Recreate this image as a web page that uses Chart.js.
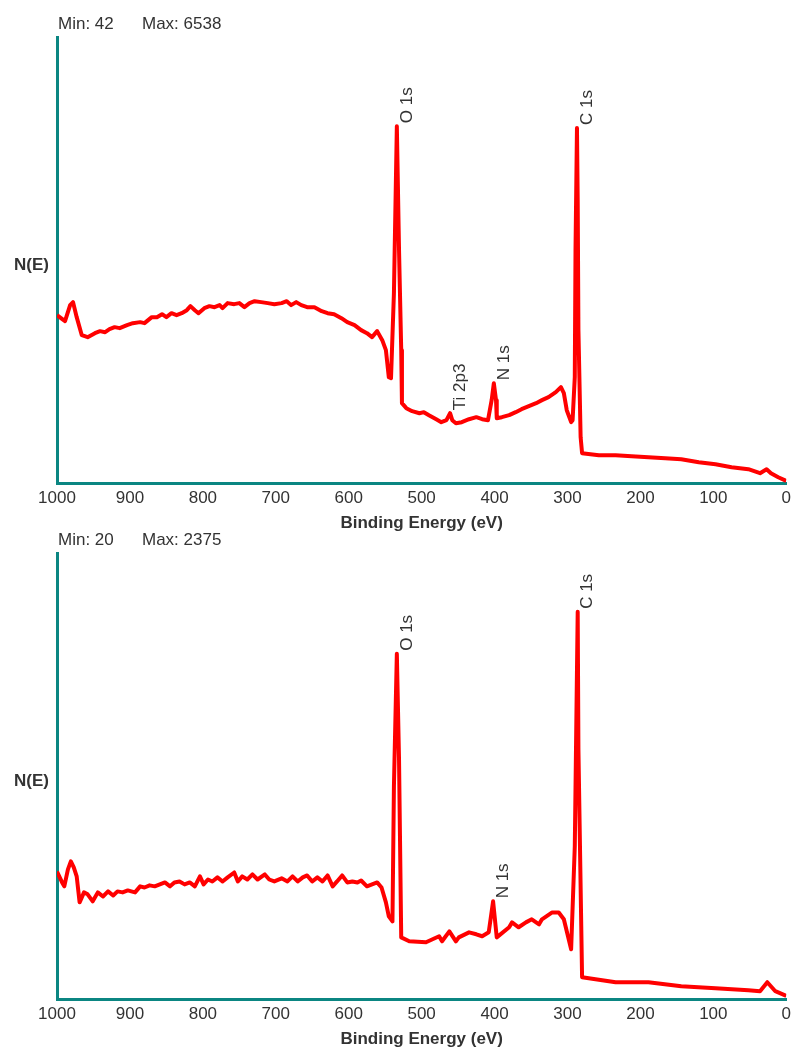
<!DOCTYPE html>
<html lang="en">
<head>
    <meta charset="utf-8" />
    <title>XPS survey</title>
    <script src="https://cdn.jsdelivr.net/npm/chart.js"></script>
    <style>
        body { margin: 0; background: #fff; overflow: hidden; }
        .painel { position: absolute; left: 0; width: 796px; height: 540px; }
        #painel_topo { top: 0; }
        #painel_baixo { top: 516px; }
    </style>
</head>
<body>
    <div class="painel" id="painel_topo"><canvas id="grafico_topo" width="796" height="540"></canvas></div>
    <div class="painel" id="painel_baixo"><canvas id="grafico_baixo" width="796" height="540"></canvas></div>

<script>
    // Espectro de cima (binding energy em eV, contagens)
    const topEv = [1000, 989, 982, 978, 973, 966, 958, 948, 941, 934, 928, 921, 914, 904, 896, 886, 880, 870, 863, 856,
        850, 843, 836, 829, 822, 817, 811, 806, 798, 791, 784, 777, 773, 766, 757, 750, 743, 736, 729, 720,
        711, 702, 692, 685, 679, 672, 665, 657, 647, 637, 629, 620, 610, 602, 592, 583, 575, 568, 561, 554,
        549, 545, 542, 538, 534, 531, 528, 527, 521, 513, 503, 497, 490, 480, 473, 466, 461, 458, 453, 445,
        435, 425, 417, 409, 404, 401, 398, 397, 390, 380, 371, 363, 353, 343, 335, 326, 316, 309, 305, 301,
        295, 293, 290, 289, 287, 286, 285, 282, 280, 257, 234, 212, 189, 166, 144, 120, 97, 75, 52, 36,
        27, 21, 11, 0];
    const topCounts = [3078, 2968, 3261, 3316, 3041, 2711, 2675, 2748, 2785, 2766, 2821, 2858, 2840, 2895, 2931, 2950, 2931, 3041, 3041, 3096,
        3041, 3114, 3078, 3114, 3169, 3243, 3169, 3114, 3206, 3243, 3224, 3261, 3206, 3298, 3279, 3298, 3224, 3298, 3334, 3316,
        3298, 3279, 3298, 3334, 3261, 3316, 3261, 3224, 3224, 3151, 3114, 3096, 3023, 2950, 2895, 2803, 2748, 2675, 2785, 2620,
        2437, 1942, 1924, 3481, 6538, 4269, 2437, 1466, 1374, 1319, 1282, 1301, 1246, 1172, 1118, 1154, 1282, 1154, 1099, 1118,
        1172, 1209, 1172, 1154, 1521, 1832, 1521, 1191, 1209, 1246, 1301, 1356, 1411, 1466, 1521, 1576, 1667, 1759, 1649, 1337,
        1118, 1154, 1942, 4269, 6504, 5185, 2803, 843, 550, 513, 513, 495, 476, 458, 440, 385, 348, 293, 256, 183,
        256, 183, 110, 42];
    const topMinMax = [42, 6538];
    const topYMax = 8172;
    const topPeakNames = ["O 1s", "Ti 2p3", "N 1s", "C 1s"];
    const topPeakEv = [534, 461, 401, 287];
    const topPeakCounts = [6538, 1282, 1832, 6504];

    // Espectro de baixo
    const bottomEv = [1000, 993, 990, 985, 981, 977, 973, 969, 963, 958, 951, 944, 937, 930, 923, 917, 910, 903, 893, 886,
        880, 873, 866, 859, 852, 845, 839, 832, 825, 818, 811, 804, 799, 793, 787, 780, 773, 766, 757, 752,
        746, 739, 732, 725, 715, 709, 702, 692, 684, 677, 670, 663, 657, 650, 643, 636, 629, 622, 616, 609,
        602, 595, 588, 583, 575, 568, 561, 555, 549, 545, 540, 538, 534, 531, 528, 517, 494, 476, 472, 462,
        453, 449, 435, 425, 417, 408, 402, 397, 380, 376, 367, 357, 349, 339, 335, 321, 312, 305, 295, 290,
        286, 285, 280, 234, 189, 144, 97, 52, 36, 26, 15, 0];
    const bottomCounts = [783, 716, 692, 796, 845, 808, 753, 594, 655, 643, 600, 655, 630, 661, 636, 661, 655, 667, 655, 692,
        685, 698, 692, 704, 716, 692, 716, 722, 704, 716, 692, 753, 704, 734, 722, 747, 722, 747, 777, 722,
        753, 734, 765, 734, 765, 734, 722, 741, 722, 753, 722, 747, 759, 722, 747, 722, 759, 692, 722, 759,
        716, 722, 716, 728, 692, 704, 716, 685, 594, 508, 477, 1304, 2118, 1469, 379, 355, 349, 386, 355, 416,
        355, 379, 410, 398, 386, 410, 600, 379, 441, 471, 441, 471, 490, 459, 490, 532, 532, 490, 306, 936,
        2375, 1530, 135, 104, 104, 80, 67, 55, 49, 104, 49, 20];
    const bottomMinMax = [20, 2375];
    const bottomYMax = 2736;
    const bottomPeakNames = ["O 1s", "N 1s", "C 1s"];
    const bottomPeakEv = [534, 402, 286];
    const bottomPeakCounts = [2118, 600, 2375];

    const xTicks = [1000, 900, 800, 700, 600, 500, 400, 300, 200, 100, 0];

    const corEixo = "#0b8682";
    const corTexto = "#333333";
    const fonte = "Arial, 'Liberation Sans', sans-serif";

    // Plugin que escreve Min/Max, N(E) e os nomes dos picos
    const textosPlugin = {
        id: "textos",
        afterDraw(chart, args, opts) {
            const ctx = chart.ctx;
            const area = chart.chartArea;
            const x = chart.scales.x;
            const y = chart.scales.y;
            ctx.save();
            ctx.fillStyle = corTexto;
            ctx.font = "17px " + fonte;
            ctx.textBaseline = "middle";
            ctx.textAlign = "left";
            ctx.fillText("Min: " + opts.minMax[0], area.left + 1, area.top - 13);
            ctx.fillText("Max: " + opts.minMax[1], area.left + 85, area.top - 13);

            ctx.font = "bold 17px " + fonte;
            ctx.fillText("N(E)", 14, area.top + 228);

            ctx.font = "17px " + fonte;
            opts.names.forEach((nome, i) => {
                const px = x.getPixelForValue(opts.ev[i]) + 10;
                const py = y.getPixelForValue(opts.counts[i]) - 3;
                ctx.save();
                ctx.translate(px, py);
                ctx.rotate(-Math.PI / 2);
                ctx.fillText(nome, 0, 0);
                ctx.restore();
            });
            ctx.restore();
        }
    };

    function criarGrafico(id, ev, counts, yMax, minMax, names, peakEv, peakCounts) {
        const ctx = document.getElementById(id).getContext("2d");
        return new Chart(ctx, {
            type: "line",
            data: {
                datasets: [{
                    data: ev.map((e, i) => ({ x: e, y: counts[i] })),
                    borderColor: "#ff0000",
                    borderWidth: 4,
                    borderJoinStyle: "round",
                    pointRadius: 0,
                    tension: 0,
                    fill: false
                }]
            },
            options: {
                responsive: false,
                animation: false,
                layout: { padding: { left: 57, right: 8, top: 37, bottom: 6 } },
                plugins: {
                    legend: { display: false },
                    tooltip: { enabled: false },
                    textos: { minMax: minMax, names: names, ev: peakEv, counts: peakCounts }
                },
                scales: {
                    x: {
                        type: "linear",
                        reverse: true,
                        min: 0,
                        max: 1000,
                        afterBuildTicks: (axis) => { axis.ticks = xTicks.map((v) => ({ value: v })); },
                        grid: { display: false, drawTicks: false },
                        border: { color: corEixo, width: 3 },
                        ticks: {
                            color: corTexto,
                            font: { size: 17, family: fonte },
                            padding: 5,
                            maxRotation: 0,
                            callback: (v) => String(v)
                        },
                        title: {
                            display: true,
                            text: "Binding Energy (eV)",
                            color: corTexto,
                            font: { size: 17, weight: "bold", family: fonte },
                            padding: { top: 0, bottom: 0 }
                        }
                    },
                    y: {
                        min: 0,
                        max: yMax,
                        grid: { display: false, drawTicks: false },
                        border: { color: corEixo, width: 3 },
                        ticks: { display: false },
                        afterFit: (axis) => { axis.width = 0; }
                    }
                }
            },
            plugins: [textosPlugin]
        });
    }

    criarGrafico("grafico_topo", topEv, topCounts, topYMax, topMinMax, topPeakNames, topPeakEv, topPeakCounts);
    criarGrafico("grafico_baixo", bottomEv, bottomCounts, bottomYMax, bottomMinMax, bottomPeakNames, bottomPeakEv, bottomPeakCounts);
</script>
</body>
</html>
